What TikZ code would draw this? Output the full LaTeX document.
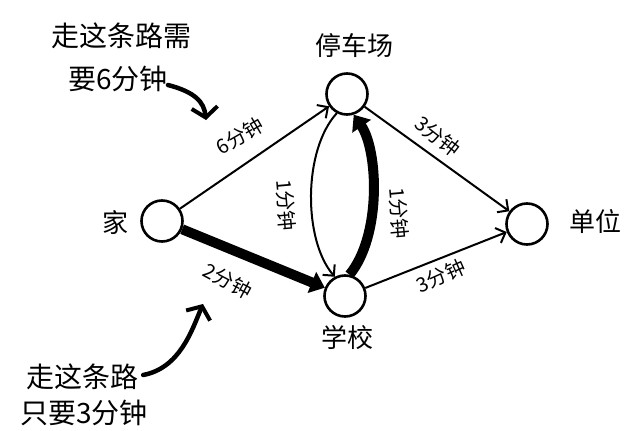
\documentclass[tikz,border=0pt]{standalone}
\usepackage{fontspec}
\setmainfont{Noto Sans CJK SC}
\usetikzlibrary{arrows.meta}
\begin{document}
\begin{tikzpicture}[x=1pt,y=-1pt,
  place/.style={circle, draw, line width=2.6pt, minimum size=41pt, inner sep=0pt},
  bigtext/.style={font=\fontsize{26}{30}\selectfont, inner sep=0pt},
  anntext/.style={font=\fontsize{28}{32}\selectfont, inner sep=0pt},
  edgetext/.style={font=\fontsize{20}{22}\selectfont, inner sep=0pt},
  thinedge/.style={line width=2pt, -{Straight Barb[length=8pt,width=16pt,line width=2pt]}},
  thickedge/.style={line width=10pt, -{Triangle[length=14pt,width=22pt]}},
  annarrow/.style={line width=4.5pt, line cap=round, -{Straight Barb[length=10pt,width=26pt,line width=4pt]}}
]
\useasboundingbox (0,0) rectangle (625,431);
\fill[white] (0,0) rectangle (625,431);

% places
\node[place] (home) at (162,221) {};
\node[place] (parking) at (347,94) {};
\node[place] (school) at (345,296) {};
\node[place] (work) at (527,224) {};

% place names
\node[bigtext] (homelabel) at (115,223) {家};
\node[bigtext] (parkinglabel) at (354,46) {停车场};
\node[bigtext] (schoollabel) at (347,338) {学校};
\node[bigtext] (worklabel) at (595,222) {单位};

% edges
\draw[thinedge] (home) -- (parking);
\draw[thickedge] (home) -- (school);
\draw[thinedge] (parking) -- (work);
\draw[thinedge] (school) -- (work);
\draw[thickedge] (school.78) .. controls (382,235) and (378,150) .. (parking.-72);
\draw[thinedge] (parking.-118) .. controls (303,150) and (303,240) .. (school.118);

% edge labels
\node[edgetext, rotate=30] (l1) at (240,136) {6分钟};
\node[edgetext, rotate=-28] (l2) at (228,281) {2分钟};
\node[edgetext, rotate=-38] (l3) at (438,136) {3分钟};
\node[edgetext, rotate=24] (l4) at (441,276) {3分钟};
\node[edgetext, rotate=-85] (l5) at (286,205) {1分钟};
\node[edgetext, rotate=-85] (l6) at (399,213) {1分钟};

% annotations
\node[anntext] (ann1a) at (122,36) {走这条路需};
\node[anntext] (ann1b) at (118,79) {要6分钟};
\node[anntext] (ann2a) at (83,377) {走这条路};
\node[anntext] (ann2b) at (84,413) {只要3分钟};

\coordinate (tip1) at (206,120);
\coordinate (tip2) at (203,304);
\draw[annarrow] (ann1b.east) ++(0,6) .. controls (195,92) and (204,102) .. (tip1);
\draw[annarrow] (ann2a.east) ++(4,-2) .. controls (180,368) and (192,330) .. (tip2);
\end{tikzpicture}
\end{document}
